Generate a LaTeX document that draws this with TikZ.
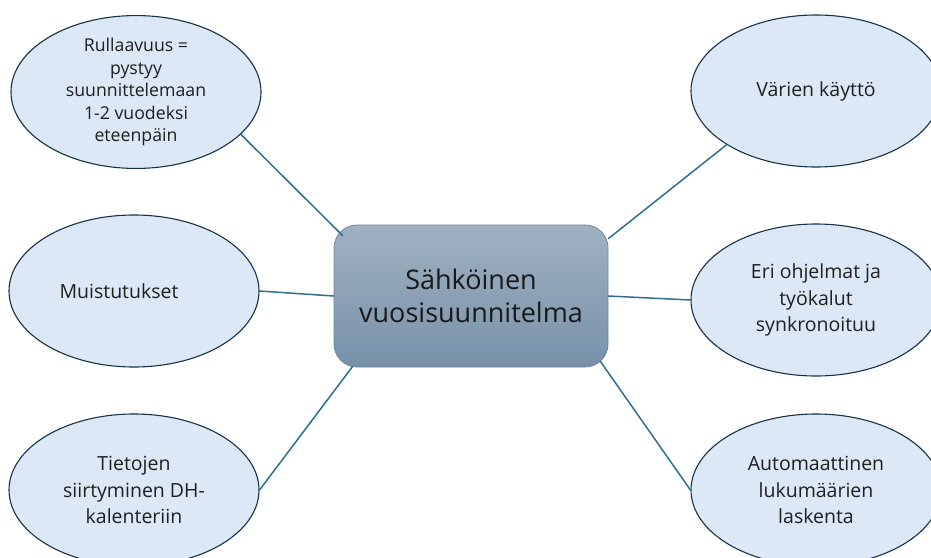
\documentclass[tikz,border=0pt]{standalone}
\usepackage{fontspec}
\setmainfont{Open Sans}
\usetikzlibrary{calc,shapes.geometric}

\definecolor{kuplatayte}{HTML}{DCE8F5}
\definecolor{kuplaviiva}{HTML}{14324A}
\definecolor{yhdysviiva}{HTML}{2F6E8F}
\definecolor{laatikkoyla}{HTML}{A0B1C1}
\definecolor{laatikkoala}{HTML}{7891A9}
\definecolor{laatikkoreuna}{HTML}{6C88A0}

\begin{document}
\begin{tikzpicture}[x=1pt, y=-1pt, line cap=round, line join=round,
  kupla/.style={ellipse, draw=kuplaviiva, line width=1.1pt, fill=kuplatayte,
    minimum width=250pt, minimum height=152pt, inner sep=0pt, align=center,
    text=black!88, font=\fontsize{19.5}{26.5}\selectfont},
  keskus/.style={rectangle, rounded corners=23pt, draw=laatikkoreuna, line width=0.8pt,
    top color=laatikkoyla, bottom color=laatikkoala, minimum width=274pt,
    minimum height=142pt, align=center, text=black!90,
    font=\fontsize{27}{33}\selectfont},
  yhteys/.style={draw=yhdysviiva, line width=1.5pt}]

  % ===== kehys =====
  \useasboundingbox (0,0) rectangle (931,557);

  % ===== kuplat =====
  \node[kupla, font=\fontsize{17.7}{22.6}\selectfont] (rullaavuus) at (136,92)
  {Rullaavuus =\\pystyy\\suunnittelemaan\\1-2 vuodeksi\\eteenpäin};
  \node[kupla] (muistutukset) at (134,291) {Muistutukset\hspace*{30pt}};
  \node[kupla] (tietojen) at (134,490) {Tietojen\\siirtyminen DH-\\kalenteriin};

  \node[kupla] (varit) at (816,91) {Värien käyttö};
  \node[kupla] (ohjelmat) at (816,300) {Eri ohjelmat ja\\työkalut\\synkronoituu};
  \node[kupla] (automaattinen) at (816,490) {Automaattinen\\lukumäärien\\laskenta};

  % ===== keskus =====
  \node[keskus] (vuosisuunnitelma) at (471,296) {Sähköinen\\vuosisuunnitelma};

  % ===== yhteydet =====
  \draw[yhteys] (rullaavuus.-22) -- ($(vuosisuunnitelma.north west)+(9,11)$);
  \draw[yhteys] (muistutukset.east) -- (vuosisuunnitelma.west);
  \draw[yhteys] (tietojen.east) -- ($(vuosisuunnitelma.south west)+(19,-1)$);

  \draw[yhteys] ($(vuosisuunnitelma.north east)+(0,14)$) -- (varit.211);
  \draw[yhteys] (vuosisuunnitelma.east) -- (ohjelmat.west);
  \draw[yhteys] ($(vuosisuunnitelma.south east)+(-8,-6)$) -- (automaattinen.west);

\end{tikzpicture}
\end{document}
